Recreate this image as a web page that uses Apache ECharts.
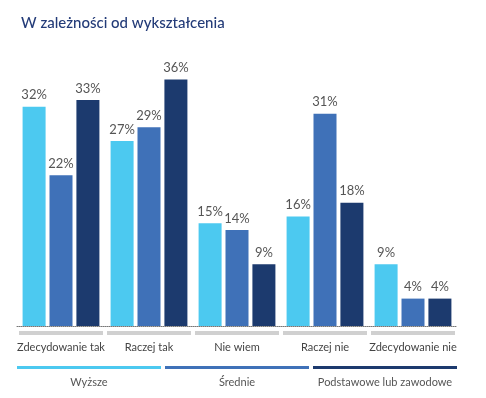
<!DOCTYPE html>
<html>
<head>
<meta charset="utf-8">
<script src="https://cdn.jsdelivr.net/npm/echarts@6/dist/echarts.min.js"></script>
<style>
  html, body { margin: 0; padding: 0; background: #fff; }
  #chart { width: 486px; height: 398px; }
</style>
</head>
<body>
<div id="chart"></div>
<script>
  const categories = ['Zdecydowanie tak', 'Raczej tak', 'Nie wiem', 'Raczej nie', 'Zdecydowanie nie']
  const seriesNames = ['Wyższe', 'Średnie', 'Podstawowe lub zawodowe']
  const wyzsze = [32, 27, 15, 16, 9]
  const srednie = [22, 29, 14, 31, 4]
  const podstawowe = [33, 36, 9, 18, 4]
  const colors = ['#4CC9F0', '#3F71B8', '#1C3A6E']

  const font = 'Lato, "Noto Sans", sans-serif'
  const chart = echarts.init(document.getElementById('chart'))

  const mkSeries = (name, data, color) => ({
    name,
    type: 'bar',
    data,
    barWidth: 23,
    barGap: '17%',
    itemStyle: { color },
    label: {
      show: true,
      position: 'top',
      distance: 5,
      formatter: '{c}%',
      color: '#555',
      fontSize: 13,
      fontFamily: font
    },
    xAxisIndex: 0,
    yAxisIndex: 0
  })

  // legend: coloured stripe over each third, name centred below
  const legendLeft = 17
  const legendW = 440
  const legendGap = 4
  const segW = (legendW - legendGap * 2) / 3
  const legendGraphics = []
  seriesNames.forEach((n, i) => {
    const x = legendLeft + i * (segW + legendGap)
    legendGraphics.push({
      type: 'rect',
      shape: { x, y: 366, width: segW, height: 3 },
      style: { fill: colors[i] }
    })
    legendGraphics.push({
      type: 'text',
      x: x + segW / 2,
      y: 382,
      style: {
        text: n,
        fill: '#555',
        font: '11px ' + font,
        textAlign: 'center',
        textVerticalAlign: 'middle'
      }
    })
  })

  const option = {
    animation: false,
    title: {
      text: 'W zależności od wykształcenia',
      left: 16,
      top: 11,
      textStyle: { color: '#233B78', fontSize: 15, fontWeight: 500, fontFamily: font }
    },
    grid: [
      { left: 17, right: 29, top: 52, height: 274 },
      { left: 17, right: 29, top: 331, height: 4 }
    ],
    xAxis: [
      {
        type: 'category',
        data: categories,
        gridIndex: 0,
        axisTick: { show: false },
        axisLine: { lineStyle: { color: '#777', type: 'dotted', width: 1 } },
        axisLabel: { color: '#444', fontSize: 11, fontFamily: font, margin: 16, interval: 0 }
      },
      {
        type: 'category',
        data: categories,
        gridIndex: 1,
        show: false
      }
    ],
    yAxis: [
      { type: 'value', min: 0, max: 40, gridIndex: 0, show: false },
      { type: 'value', min: 0, max: 1, gridIndex: 1, show: false }
    ],
    series: [
      mkSeries(seriesNames[0], wyzsze, colors[0]),
      mkSeries(seriesNames[1], srednie, colors[1]),
      mkSeries(seriesNames[2], podstawowe, colors[2]),
      {
        type: 'bar',
        data: categories.map(() => 1),
        xAxisIndex: 1,
        yAxisIndex: 1,
        barWidth: 84,
        itemStyle: { color: '#D0D0D0' },
        silent: true
      }
    ],
    graphic: legendGraphics
  }

  chart.setOption(option)
</script>
</body>
</html>
